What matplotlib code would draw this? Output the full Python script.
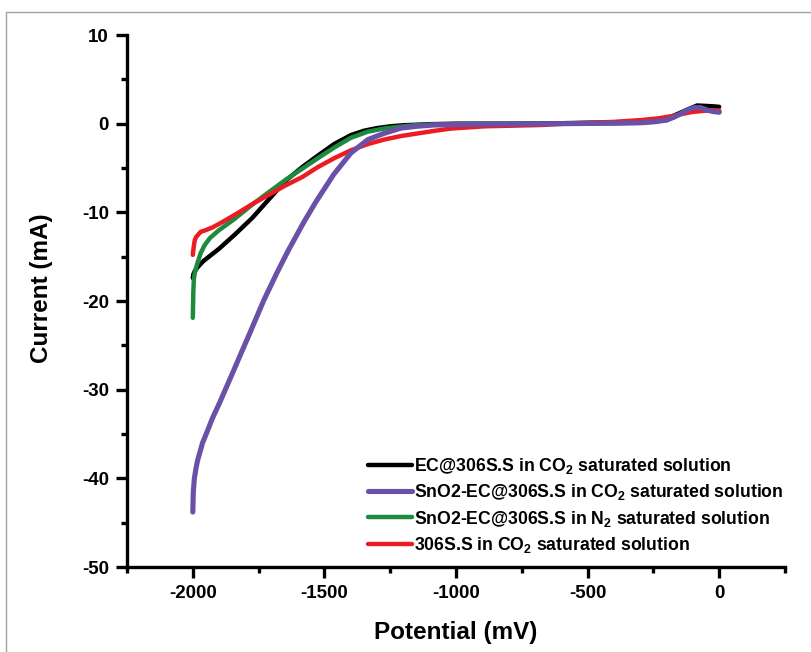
import matplotlib
matplotlib.use("Agg")
import matplotlib.pyplot as plt
from matplotlib.patches import Rectangle

plt.rcParams['font.family'] = ['Liberation Sans', 'DejaVu Sans']
plt.rcParams['font.weight'] = 'bold'
plt.rcParams['axes.unicode_minus'] = False
plt.rcParams['mathtext.fontset'] = 'custom'
plt.rcParams['mathtext.rm'] = 'Liberation Sans:bold'
plt.rcParams['mathtext.bf'] = 'Liberation Sans:bold'
plt.rcParams['mathtext.it'] = 'Liberation Sans:bold'
plt.rcParams['mathtext.default'] = 'bf'

# ---- data ----
black_x = [-2000, -1998, -1992, -1982, -1960, -1930, -1900, -1840, -1773, -1710, -1646, -1580,
           -1520, -1463, -1400, -1350, -1300, -1250, -1200, -1100, -1000, -800, -600, -400,
           -300, -220, -180, -150, -120, -100, -84, -50, -20, 0]
black_y = [-17.4, -17.0, -16.6, -16.2, -15.5, -14.8, -14.1, -12.5, -10.6, -8.5, -6.4, -4.8,
           -3.5, -2.3, -1.3, -0.8, -0.5, -0.3, -0.18, -0.06, 0.0, 0.0, 0.05, 0.15,
           0.25, 0.45, 0.8, 1.2, 1.6, 1.85, 2.05, 2.0, 1.95, 1.9]

purple_x = [-2000, -1998, -1994, -1988, -1982, -1963, -1945, -1925, -1900, -1875, -1850,
            -1824, -1786, -1730, -1680, -1639, -1580, -1532, -1464, -1399, -1335, -1274,
            -1209, -1150, -1084, -1000, -800, -600, -400, -300, -250, -200, -171, -150,
            -130, -110, -95, -70, -42, -20, 0]
purple_y = [-43.8, -41.5, -40.0, -38.9, -38.0, -36.0, -34.7, -33.2, -31.6, -29.9, -28.2,
            -26.4, -23.8, -19.9, -16.8, -14.4, -11.2, -8.8, -5.7, -3.3, -1.8, -1.1,
            -0.5, -0.3, -0.15, -0.1, -0.05, 0.0, 0.05, 0.1, 0.2, 0.4, 0.75, 1.05,
            1.4, 1.65, 1.8, 1.8, 1.5, 1.35, 1.3]

green_x = [-2000, -1999, -1998, -1996, -1992, -1988, -1980, -1970, -1955, -1935, -1900,
           -1844, -1773, -1710, -1646, -1580, -1520, -1463, -1400, -1335, -1274, -1200,
           -1145, -1000, -800, -600, -400, -300, -200, -171, -130, -95, -70, -42, 0]
green_y = [-21.9, -20.5, -19.0, -17.5, -16.8, -16.3, -15.5, -14.6, -13.7, -12.9, -12.0,
           -10.8, -9.1, -7.7, -6.3, -5.0, -3.8, -2.7, -1.6, -0.9, -0.55, -0.3,
           -0.15, -0.05, 0.0, 0.0, 0.05, 0.1, 0.4, 0.75, 1.4, 1.8, 1.8, 1.5, 1.3]

red_x = [-2000, -1997, -1993, -1988, -1982, -1970, -1950, -1925, -1882, -1836, -1770,
         -1710, -1650, -1583, -1525, -1463, -1399, -1335, -1274, -1210, -1145, -1080,
         -1019, -893, -677, -550, -400, -300, -232, -180, -140, -107, -60, -20, 0]
red_y = [-14.8, -14.0, -13.2, -12.8, -12.6, -12.2, -12.0, -11.7, -11.0, -10.2, -9.0,
         -8.0, -7.0, -6.0, -4.9, -3.9, -3.0, -2.3, -1.8, -1.4, -1.1, -0.8,
         -0.55, -0.3, -0.15, 0.05, 0.2, 0.4, 0.6, 0.85, 1.1, 1.3, 1.45, 1.5, 1.5]

labels = ["EC@306S.S in CO$_2$ saturated solution",
          "SnO2-EC@306S.S in CO$_2$ saturated solution",
          "SnO2-EC@306S.S in N$_2$ saturated solution",
          "306S.S in CO$_2$ saturated solution"]
colors = ["#000000", "#6a50a7", "#1d8b3d", "#ec1c24"]

x_ticks = [-2000, -1500, -1000, -500, 0]
y_ticks = [10, 0, -10, -20, -30, -40, -50]

fig = plt.figure(figsize=(8.12, 6.52), dpi=100)
ax = fig.add_axes([127/812, 1 - 567/652, (785 - 127)/812, (567 - 35)/652])

# figure border frame
fig.patches.append(Rectangle((6/812, -0.1), 1.2, 1 - 12/652 + 0.1, transform=fig.transFigure,
                             fill=False, edgecolor="#a0a0a0", linewidth=1.0))

lw = 3.2
l_black, = ax.plot(black_x, black_y, color=colors[0], lw=lw, zorder=2, solid_capstyle='round')
l_green, = ax.plot(green_x, green_y, color=colors[2], lw=lw, zorder=3, solid_capstyle='round')
l_red, = ax.plot(red_x, red_y, color=colors[3], lw=lw, zorder=4, solid_capstyle='round')
l_purple, = ax.plot(purple_x, purple_y, color=colors[1], lw=lw + 0.5, zorder=5, solid_capstyle='round')

ax.set_xlim(-2250, 250)
ax.set_ylim(-50, 10)
ax.set_xticks(x_ticks)
ax.set_xticks([-2250, -1750, -1250, -750, -250, 250], minor=True)
ax.set_yticks(y_ticks)
ax.set_yticks([5, -5, -15, -25, -35, -45], minor=True)

for s in ['top', 'right']:
    ax.spines[s].set_visible(False)
for s in ['left', 'bottom']:
    ax.spines[s].set_linewidth(2.4)

ax.tick_params(which='major', direction='out', length=8, width=2.4, labelsize=13.5, pad=5)
ax.tick_params(which='minor', direction='out', length=4, width=2.4)
for lab in ax.get_xticklabels() + ax.get_yticklabels():
    lab.set_fontweight('bold')

ax.set_xlabel("Potential (mV)", fontsize=17.5, fontweight='bold', labelpad=14)
ax.set_ylabel("Current (mA)", fontsize=17.5, fontweight='bold')
ax.yaxis.set_label_coords(-0.112, 0.524)

leg = ax.legend([l_black, l_purple, l_green, l_red], labels, loc='upper left',
                bbox_to_anchor=(0.366, 0.209), frameon=False, fontsize=12.7,
                handlelength=2.5, handletextpad=0.1, labelspacing=0.36, borderaxespad=0,
                borderpad=0)
for t in leg.get_texts():
    t.set_fontweight('bold')

fig.savefig("out.png", dpi=100)
